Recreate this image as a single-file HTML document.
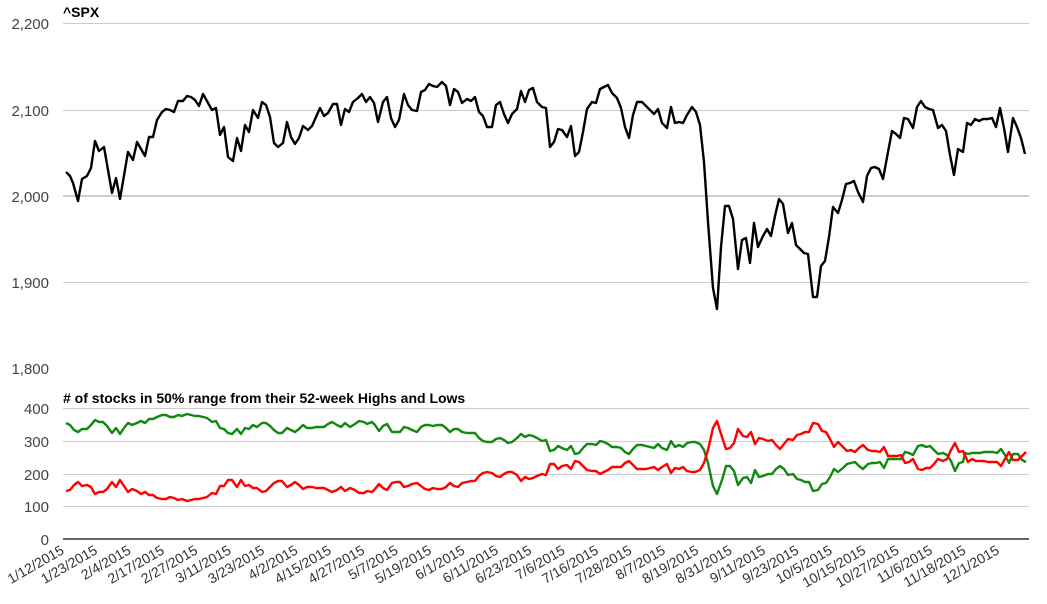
<!DOCTYPE html>
<html><head><meta charset="utf-8"><style>
html,body{margin:0;padding:0;background:#fff;}
svg{display:block;font-family:"Liberation Sans",Arial,sans-serif;}
</style></head><body>
<svg width="1047" height="604" viewBox="0 0 1047 604" xmlns="http://www.w3.org/2000/svg">
<g stroke="#cccccc" stroke-width="1">
<line x1="63" x2="1029" y1="23.5" y2="23.5"/>
<line x1="63" x2="1029" y1="110.5" y2="110.5"/>
<line x1="63" x2="1029" y1="196" y2="196" stroke-width="2"/>
<line x1="63" x2="1029" y1="282.5" y2="282.5"/>
<line x1="63" x2="1029" y1="408.5" y2="408.5"/>
<line x1="63" x2="1029" y1="441.5" y2="441.5"/>
<line x1="63" x2="1029" y1="474.5" y2="474.5"/>
<line x1="63" x2="1029" y1="506.5" y2="506.5"/>
</g>
<line x1="63" x2="1029" y1="539" y2="539" stroke="#333" stroke-width="1.5"/>
<g fill="#444" font-size="15" text-anchor="end">
<text x="49" y="29">2,200</text>
<text x="49" y="116">2,100</text>
<text x="49" y="202">2,000</text>
<text x="49" y="288">1,900</text>
<text x="49" y="374">1,800</text>
<text x="49" y="414">400</text>
<text x="49" y="447">300</text>
<text x="49" y="480">200</text>
<text x="49" y="512">100</text>
<text x="49" y="545">0</text>
</g>
<text x="63" y="17" font-size="14" font-weight="bold" fill="#000">^SPX</text>
<text x="63" y="403" font-size="14" font-weight="bold" fill="#000"># of stocks in 50% range from their 52-week Highs and Lows</text>
<polyline fill="none" stroke="#000" stroke-width="2.4" stroke-linejoin="round" points="66,172 70,176 73,183 78,201 82,179 87,176 91,168 95,141 99,151 104,147 112,193 116,178 120,199 128,152 133,160 137,142 145,156 149,137 153,137 157,120 162,112 166,109 170,110 174,112 178,101 183,101 187,96 191,97 195,100 199,106 203,94 212,110 216,108 220,135 224,127 228,157 233,161 237,138 241,151 245,125 249,132 253,110 258,118 262,102 266,105 270,117 274,143 278,147 283,143 287,122 291,137 295,144 299,138 303,126 308,130 312,126 316,117 320,108 324,116 328,113 333,104 337,104 341,125 345,109 349,112 353,102 358,98 362,94 366,102 370,97 374,103 378,122 383,102 387,97 391,118 395,127 399,120 404,94 408,105 412,110 417,111 421,92 425,90 429,84 433,86 437,87 442,82 446,86 450,105 454,89 458,92 462,103 467,99 471,101 475,97 479,112 483,116 487,127 492,127 496,105 500,102 504,114 508,123 512,114 517,109 521,91 525,102 529,90 533,88 537,102 542,107 546,108 550,147 554,142 558,129 562,130 567,137 571,126 575,156 579,152 583,132 587,109 592,102 596,103 600,89 604,87 608,85 612,93 617,98 621,108 625,127 629,138 633,115 637,102 642,102 646,106 650,110 654,114 658,109 662,123 667,128 671,107 675,123 679,122 683,123 687,115 692,107 696,112 700,125 704,162 708,222 713,288 717,309 721,247 725,206 729,206 733,219 738,269 742,240 746,238 750,263 754,223 758,247 763,236 767,229 771,236 775,216 779,199 783,204 788,233 792,223 796,245 800,249 804,253 808,254 813,297 817,297 821,266 825,261 829,237 833,207 838,213 842,200 846,184 850,183 854,181 858,192 863,202 867,176 871,168 875,167 879,169 883,179 888,152 892,131 896,134 900,138 904,118 908,119 913,128 917,107 921,101 925,107 929,109 933,110 938,128 942,125 946,131 950,155 954,175 958,149 963,152 967,123 971,125 975,119 979,121 983,119 988,119 992,118 996,127 1000,108 1004,128 1008,152 1013,118 1017,127 1021,138 1025,154"/>
<polyline fill="none" stroke="#118811" stroke-width="2.4" stroke-linejoin="round" points="66,423 70,425 74,430 78,432 82,429 87,429 91,425 95,420 99,422 103,422 107,426 112,433 116,428 120,434 124,428 128,423 132,425 137,423 141,421 145,423 149,419 153,419 157,417 162,415 166,415 170,417 174,417 178,415 182,416 187,414 191,415 195,416 199,416 203,417 207,418 212,422 216,421 220,428 224,429 228,433 232,434 237,429 241,434 245,428 249,429 253,425 257,427 262,423 266,423 270,426 274,430 278,433 282,433 287,428 291,430 295,432 299,429 303,425 307,428 312,428 316,427 320,427 324,427 328,424 332,422 337,425 341,427 345,423 350,427 355,424 359,421 364,422 367,424 372,422 375,425 379,431 383,426 387,424 392,432 396,432 400,432 404,427 408,428 412,430 417,432 421,427 425,425 429,425 433,426 437,425 442,425 446,428 450,432 454,429 458,429 462,432 467,433 471,433 475,433 479,438 483,441 487,442 492,442 496,439 500,438 504,440 508,443 512,442 517,438 521,434 525,437 529,435 533,436 537,438 542,441 546,440 550,451 554,450 558,446 562,448 567,450 571,446 575,454 579,453 583,448 587,444 592,444 596,445 600,441 604,442 608,444 612,447 617,447 621,448 625,452 629,454 633,449 637,445 642,445 646,446 650,447 654,448 658,444 662,448 667,450 671,441 675,447 679,445 683,447 687,443 692,442 695,442 700,444 704,450 708,463 713,486 717,494 722,480 726,466 730,466 734,471 738,485 743,478 747,477 751,483 755,470 759,477 763,476 768,474 772,474 776,469 780,466 784,469 788,475 793,474 797,479 801,480 805,482 809,482 813,491 818,490 822,484 826,483 830,477 834,469 838,472 843,468 847,464 851,463 855,462 859,466 863,469 868,464 872,463 876,463 880,462 884,468 888,459 893,459 897,459 901,459 905,452 909,453 913,455 918,446 922,445 926,447 930,446 934,450 938,454 943,453 947,455 951,461 955,471 959,463 963,462 965,453 968,454 972,453 976,453 980,453 984,452 988,452 993,452 997,453 1001,449 1005,455 1009,463 1013,454 1018,454 1022,460 1026,462"/>
<polyline fill="none" stroke="#ff0000" stroke-width="2.4" stroke-linejoin="round" points="66,491 70,490 74,485 78,482 82,486 87,485 91,487 95,494 99,492 103,492 107,489 112,482 116,487 120,480 124,486 128,492 132,489 137,491 141,494 145,492 149,495 153,495 157,498 162,499 166,499 170,497 174,498 178,500 182,499 187,501 191,500 195,499 199,499 203,498 207,497 212,493 216,494 220,486 224,486 228,480 232,480 237,487 241,480 245,486 249,485 253,488 257,488 262,492 266,491 270,487 274,483 278,481 282,481 287,487 291,485 295,482 299,485 303,489 307,487 312,487 316,488 320,488 324,488 328,490 332,492 337,490 341,487 345,491 350,488 355,490 359,493 364,493 367,491 372,492 375,489 379,484 383,488 387,490 392,483 396,482 400,482 404,487 408,486 412,484 417,483 421,486 425,489 429,490 433,488 437,489 442,489 446,487 450,483 454,486 458,487 462,483 467,482 471,481 475,481 479,476 483,473 487,472 492,473 496,476 500,477 504,474 508,472 512,472 517,475 521,481 525,477 529,479 533,478 537,476 542,474 546,475 550,464 554,464 558,469 562,466 567,465 571,469 575,461 579,462 583,466 587,470 592,471 596,471 600,474 604,472 608,470 612,467 617,467 621,467 625,463 629,461 633,465 637,469 642,469 646,469 650,468 654,467 658,470 662,467 667,464 671,473 675,468 679,469 683,467 687,471 692,472 695,472 700,470 704,463 708,450 713,428 717,421 722,437 726,449 730,448 734,443 738,429 743,436 747,437 751,432 755,444 759,438 763,439 768,441 772,440 776,445 780,449 784,444 788,439 793,440 797,435 801,434 805,432 809,432 813,423 818,424 822,431 826,432 830,439 834,447 838,442 843,447 847,451 851,450 855,452 859,448 863,445 868,450 872,451 876,451 880,452 884,447 888,456 893,456 897,456 901,455 905,463 909,462 913,459 918,469 922,470 926,468 930,468 934,464 938,459 943,461 947,459 951,450 955,443 959,452 963,451 968,462 972,459 976,461 980,461 984,461 988,462 993,462 997,462 1001,466 1005,459 1009,452 1013,460 1018,460 1022,456 1026,452"/>
<g fill="#333" font-size="14" text-anchor="end">
<text transform="translate(65,553) rotate(-30)">1/12/2015</text>
<text transform="translate(98.4,553) rotate(-30)">1/23/2015</text>
<text transform="translate(131.8,553) rotate(-30)">2/4/2015</text>
<text transform="translate(165.2,553) rotate(-30)">2/17/2015</text>
<text transform="translate(198.6,553) rotate(-30)">2/27/2015</text>
<text transform="translate(232,553) rotate(-30)">3/11/2015</text>
<text transform="translate(265.4,553) rotate(-30)">3/23/2015</text>
<text transform="translate(298.8,553) rotate(-30)">4/2/2015</text>
<text transform="translate(332.2,553) rotate(-30)">4/15/2015</text>
<text transform="translate(365.6,553) rotate(-30)">4/27/2015</text>
<text transform="translate(399,553) rotate(-30)">5/7/2015</text>
<text transform="translate(432.4,553) rotate(-30)">5/19/2015</text>
<text transform="translate(465.8,553) rotate(-30)">6/1/2015</text>
<text transform="translate(499.2,553) rotate(-30)">6/11/2015</text>
<text transform="translate(532.6,553) rotate(-30)">6/23/2015</text>
<text transform="translate(566,553) rotate(-30)">7/6/2015</text>
<text transform="translate(599.4,553) rotate(-30)">7/16/2015</text>
<text transform="translate(632.8,553) rotate(-30)">7/28/2015</text>
<text transform="translate(666.2,553) rotate(-30)">8/7/2015</text>
<text transform="translate(699.6,553) rotate(-30)">8/19/2015</text>
<text transform="translate(733,553) rotate(-30)">8/31/2015</text>
<text transform="translate(766.4,553) rotate(-30)">9/11/2015</text>
<text transform="translate(799.8,553) rotate(-30)">9/23/2015</text>
<text transform="translate(833.2,553) rotate(-30)">10/5/2015</text>
<text transform="translate(866.6,553) rotate(-30)">10/15/2015</text>
<text transform="translate(900,553) rotate(-30)">10/27/2015</text>
<text transform="translate(933.4,553) rotate(-30)">11/6/2015</text>
<text transform="translate(966.8,553) rotate(-30)">11/18/2015</text>
<text transform="translate(1000.2,553) rotate(-30)">12/1/2015</text>
</g>
</svg>
</body></html>
